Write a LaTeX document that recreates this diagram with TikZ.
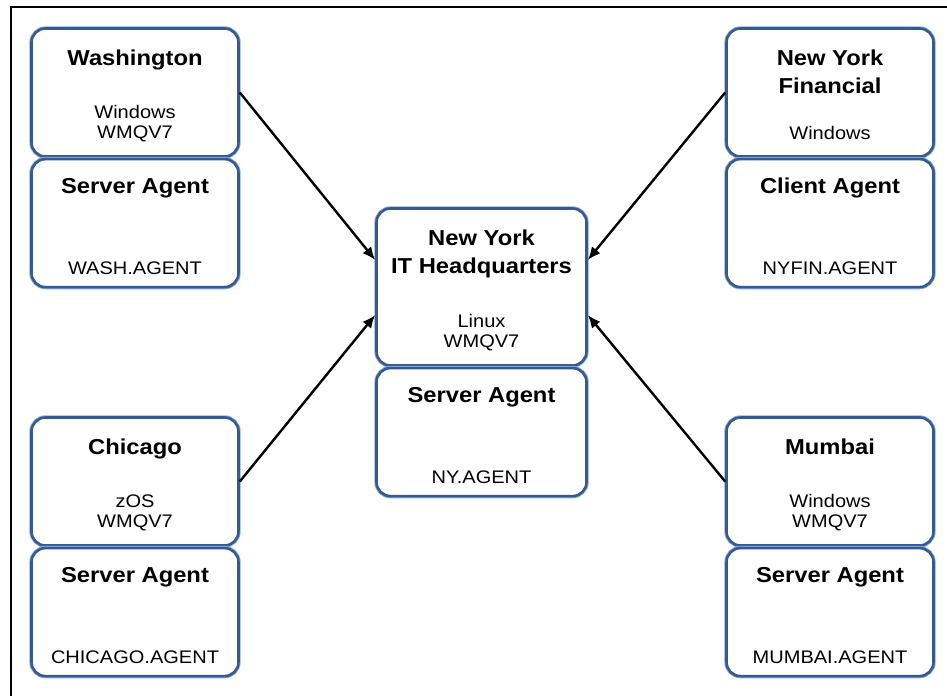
\documentclass[tikz,border=0pt]{standalone}
\usepackage{fontspec}
\setmainfont[FakeStretch=1.1]{Liberation Sans}
\usepackage{tikz}
\usetikzlibrary{
    arrows.meta,
    positioning
}
\definecolor{boxblue}{RGB}{52,90,145}
\definecolor{boxlight}{RGB}{140,172,212}
\tikzset{
    % Site boxes
    sitebox/.style={
        rectangle,
        draw=boxblue,
        line width=1.3pt,
        preaction={draw=boxlight, line width=2.2pt},
        fill=white,
        rounded corners=7pt,
        minimum width=103.5pt,
        minimum height=64pt,
        inner sep=0pt
    },
    hqbox/.style={
        sitebox,
        minimum width=105pt,
        minimum height=78.5pt
    },
    % Texts
    titletext/.style={
        font=\bfseries\fontsize{10.8}{14}\selectfont,
        align=center,
        inner sep=0pt
    },
    ostext/.style={
        font=\fontsize{9.1}{10}\selectfont,
        align=center,
        inner sep=0pt
    },
    % Arrows
    link/.style={
        -{Latex[length=6.5pt,width=5.5pt]},
        line width=1.2pt,
        draw=black
    }
}

\begin{document}
\begin{tikzpicture}[x=0.5pt, y=-0.5pt]

    \useasboundingbox (0,0) rectangle (947,696);

    % Frame
    \draw[line width=0.75pt] (947,7) -| (11,696);

    % Washington
    \node[sitebox] (wash) at (135,92.5) {};
    \node[titletext, below=11pt of wash.north] (washname) {Washington};
    \node[ostext, above=7.5pt of wash.south] (washos) {Windows\\WMQV7};
    \node[sitebox, below=0pt of wash] (washagent) {};
    \node[titletext, below=10pt of washagent.north] (washagenttype) {Server Agent};
    \node[ostext, above=6.5pt of washagent.south] (washagentname) {WASH.AGENT};

    % New York Financial
    \node[sitebox] (nyfin) at (830,92.5) {};
    \node[titletext, below=11pt of nyfin.north] (nyfinname) {New York\\Financial};
    \node[ostext, above=9pt of nyfin.south] (nyfinos) {Windows};
    \node[sitebox, below=0pt of nyfin] (nyfinagent) {};
    \node[titletext, below=10pt of nyfinagent.north] (nyfinagenttype) {Client Agent};
    \node[ostext, above=6.5pt of nyfinagent.south] (nyfinagentname) {NYFIN.AGENT};

    % New York IT Headquarters
    \node[hqbox] (hq) at (481.5,287) {};
    \node[titletext, below=11pt of hq.north] (hqname) {New York\\IT Headquarters};
    \node[ostext, above=7.5pt of hq.south] (hqos) {Linux\\WMQV7};
    \node[sitebox, minimum width=105pt, below=0pt of hq] (hqagent) {};
    \node[titletext, below=10pt of hqagent.north] (hqagenttype) {Server Agent};
    \node[ostext, above=6.5pt of hqagent.south] (hqagentname) {NY.AGENT};

    % Chicago
    \node[sitebox] (chic) at (135,481.5) {};
    \node[titletext, below=11pt of chic.north] (chicname) {Chicago};
    \node[ostext, above=7.5pt of chic.south] (chicos) {zOS\\WMQV7};
    \node[sitebox, below=0pt of chic] (chicagent) {};
    \node[titletext, below=10pt of chicagent.north] (chicagenttype) {Server Agent};
    \node[ostext, above=6.5pt of chicagent.south] (chicagentname) {CHICAGO.AGENT};

    % Mumbai
    \node[sitebox] (mumbai) at (830,481.5) {};
    \node[titletext, below=11pt of mumbai.north] (mumbainame) {Mumbai};
    \node[ostext, above=7.5pt of mumbai.south] (mumbaios) {Windows\\WMQV7};
    \node[sitebox, below=0pt of mumbai] (mumbaiagent) {};
    \node[titletext, below=10pt of mumbaiagent.north] (mumbaiagenttype) {Server Agent};
    \node[ostext, above=6.5pt of mumbaiagent.south] (mumbaiagentname) {MUMBAI.AGENT};

    % Links to headquarters
    \draw[link] (wash.east) -- ([yshift=13.5pt]hq.west);
    \draw[link] (chic.east) -- ([yshift=-14pt]hq.west);
    \draw[link] (nyfin.west) -- ([yshift=13.5pt]hq.east);
    \draw[link] (mumbai.west) -- ([yshift=-14pt]hq.east);

\end{tikzpicture}
\end{document}
